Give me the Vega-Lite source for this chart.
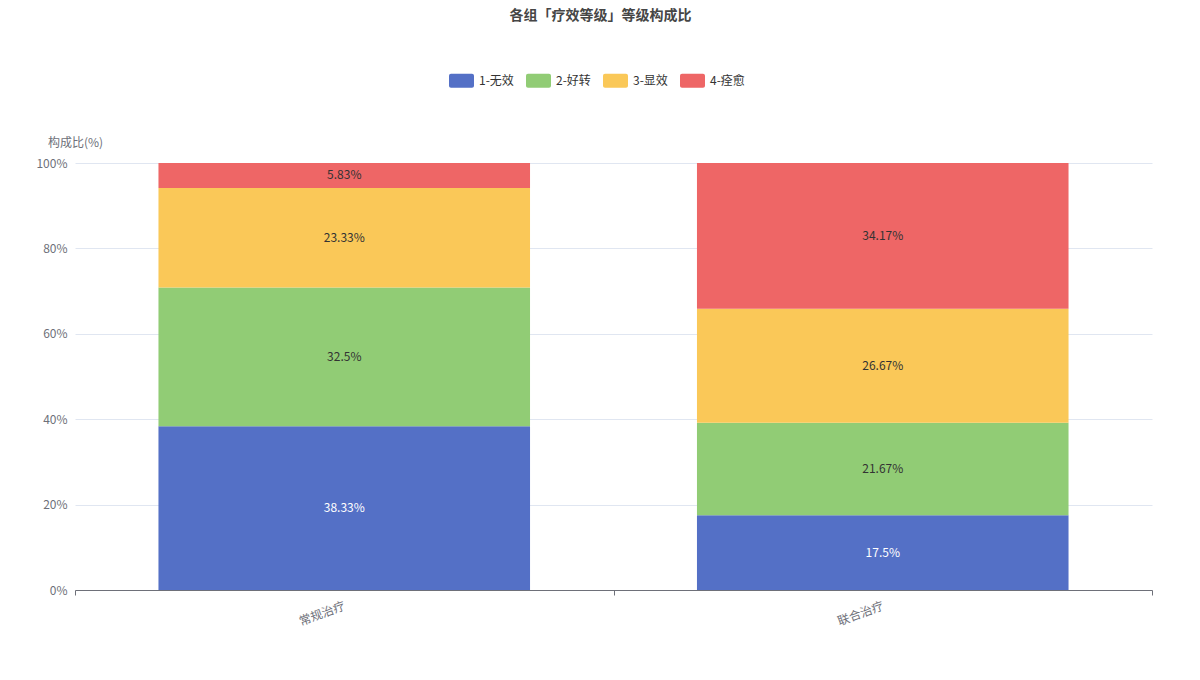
{
  "$schema": "https://vega.github.io/schema/vega-lite/v6.json",
  "width": 1077,
  "height": 427,
  "autosize": "none",
  "padding": {"left": 75, "top": 163, "right": 48, "bottom": 90},
  "background": "#ffffff",
  "config": {
    "font": "Noto Sans CJK SC",
    "view": {"stroke": null}
  },
  "title": {
    "text": "各组「疗效等级」等级构成比",
    "fontSize": 14,
    "fontWeight": "bold",
    "color": "#464646",
    "anchor": "middle",
    "dx": -13,
    "offset": 45
  },
  "data": {
    "values": [
      {"group": "常规治疗", "grade": "1-无效", "pct": 38.33},
      {"group": "常规治疗", "grade": "2-好转", "pct": 32.5},
      {"group": "常规治疗", "grade": "3-显效", "pct": 23.33},
      {"group": "常规治疗", "grade": "4-痊愈", "pct": 5.83},
      {"group": "联合治疗", "grade": "1-无效", "pct": 17.5},
      {"group": "联合治疗", "grade": "2-好转", "pct": 21.67},
      {"group": "联合治疗", "grade": "3-显效", "pct": 26.67},
      {"group": "联合治疗", "grade": "4-痊愈", "pct": 34.17}
    ]
  },
  "transform": [
    {"stack": "pct", "groupby": ["group"], "sort": [{"field": "grade", "order": "ascending"}], "as": ["y0", "y1"]},
    {"calculate": "(datum.y0 + datum.y1) / 2", "as": "ymid"},
    {"calculate": "datum.pct + '%'", "as": "label"}
  ],
  "encoding": {
    "x": {
      "field": "group",
      "type": "nominal",
      "sort": null,
      "scale": {"paddingInner": 0, "paddingOuter": 0},
      "axis": {
        "title": null,
        "tickBand": "extent",
        "domainColor": "#6E7079",
        "tickColor": "#6E7079",
        "tickSize": 5,
        "labelColor": "#6E7079",
        "labelFontSize": 12,
        "labelAngle": -20,
        "labelAlign": "right",
        "labelBaseline": "middle",
        "labelPadding": 10,
        "grid": false
      }
    }
  },
  "layer": [
    {
      "mark": {"type": "bar", "width": {"band": 0.69}},
      "encoding": {
        "y": {
          "field": "y0",
          "type": "quantitative",
          "scale": {"domain": [0, 100], "nice": false, "clamp": true},
          "axis": {
            "values": [0, 20, 40, 60, 80, 100],
            "labelExpr": "datum.value + '%'",
            "domain": false,
            "ticks": false,
            "gridColor": "#E0E6F1",
            "labelColor": "#6E7079",
            "labelFontSize": 12,
            "labelPadding": 8,
            "title": "构成比(%)",
            "titleAngle": 0,
            "titleX": 0,
            "titleY": -21,
            "titleAlign": "center",
            "titleBaseline": "middle",
            "titleFontWeight": "normal",
            "titleFontSize": 12,
            "titleColor": "#6E7079"
          }
        },
        "y2": {"field": "y1"},
        "color": {
          "field": "grade",
          "type": "nominal",
          "scale": {"domain": ["1-无效", "2-好转", "3-显效", "4-痊愈"], "range": ["#5470c6", "#91cc75", "#fac858", "#ee6666"]},
          "legend": {
            "title": null,
            "orient": "none",
            "direction": "horizontal",
            "columns": 4,
            "legendX": 374,
            "legendY": -95,
            "symbolType": "M-0.84,-0.56H0.84A0.16,0.16 0 0 1 1,-0.4V0.4A0.16,0.16 0 0 1 0.84,0.56H-0.84A0.16,0.16 0 0 1 -1,0.4V-0.4A0.16,0.16 0 0 1 -0.84,-0.56Z",
            "symbolSize": 625,
            "symbolStrokeWidth": 0,
            "symbolOpacity": 1,
            "labelFontSize": 12,
            "labelColor": "#333333",
            "labelOffset": 5,
            "columnPadding": 12
          }
        }
      }
    },
    {
      "mark": {"type": "text", "fontSize": 12, "baseline": "middle", "align": "center"},
      "encoding": {
        "y": {"field": "ymid", "type": "quantitative"},
        "text": {"field": "label", "type": "nominal"},
        "color": {
          "condition": {"test": "datum.grade === '1-无效'", "value": "#ffffff"},
          "value": "#333333"
        }
      }
    }
  ]
}
